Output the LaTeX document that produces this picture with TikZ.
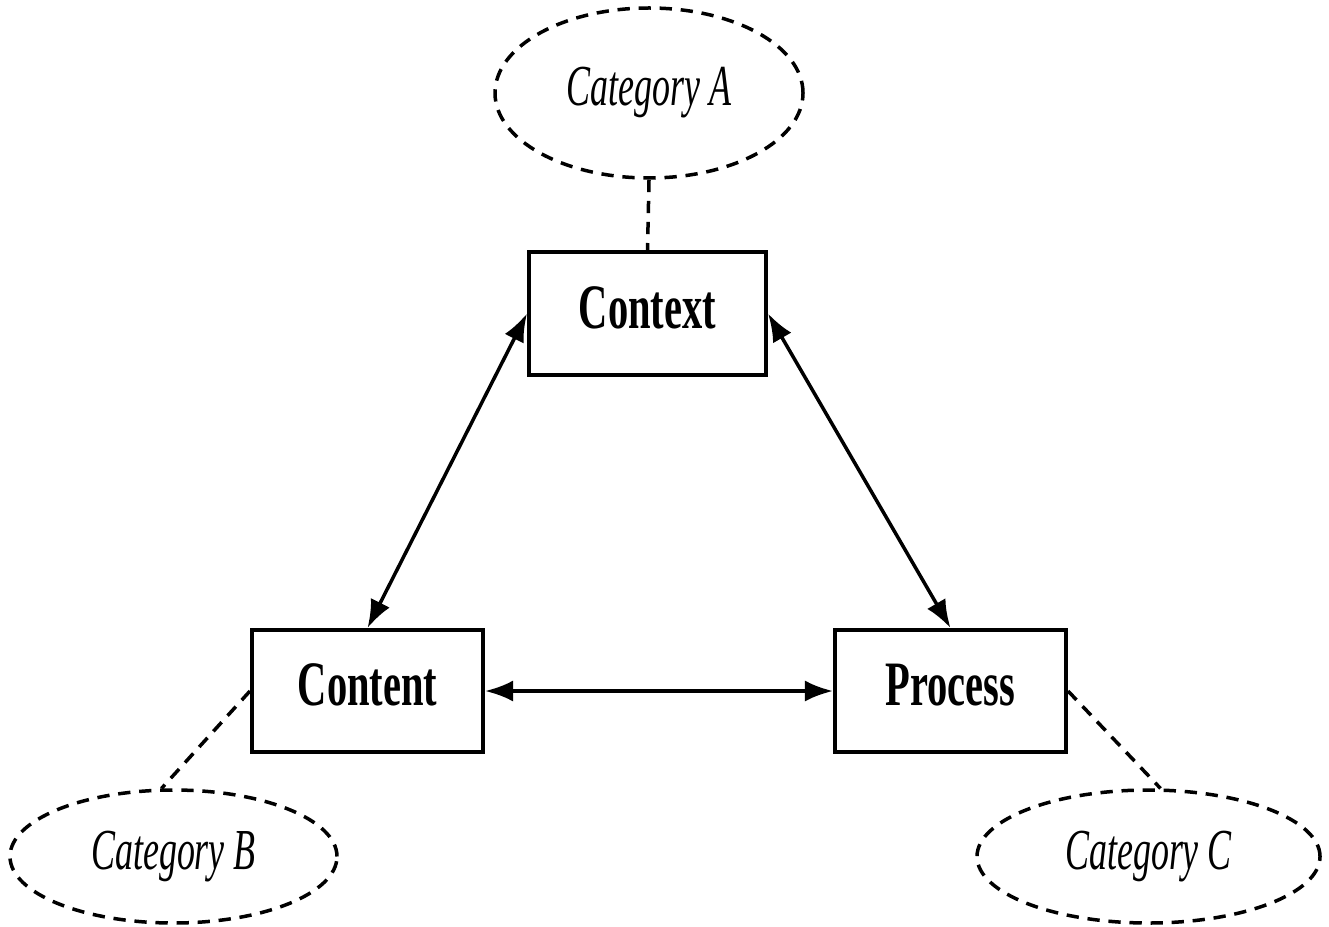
\documentclass[tikz,border=0pt]{standalone}
\usepackage{fontspec}
\usepackage{tikz}
\usetikzlibrary{shapes.geometric, arrows.meta}
\newfontfamily\boxfont[FakeStretch=0.64]{Liberation Serif}
\newfontfamily\catfont[FakeStretch=0.62]{Liberation Serif}
\tikzstyle{block} = [rectangle, draw=black, line width=0.4mm,
                     text centered, text depth=0.35em, font=\boxfont\bfseries\fontsize{18}{21}\selectfont]
\tikzstyle{category} = [ellipse, draw=black, line width=0.35mm,
                        dash pattern=on 3.5pt off 2.5pt, inner sep=0pt,
                        font=\catfont\itshape\fontsize{16.5}{19}\selectfont]
\tikzstyle{arrow} = [line width=0.35mm, {Latex[length=8pt,width=6pt]}-{Latex[length=8pt,width=6pt]}]
\tikzstyle{link} = [line width=0.35mm, dash pattern=on 3.5pt off 2.5pt]

\begin{document}
\begin{tikzpicture}
        \useasboundingbox (0,0) rectangle (13.29,9.26);

        \node (Context) [block, minimum width=2.37cm, minimum height=1.23cm, xshift=6.475cm, yshift=6.125cm] {Context};

        \node (Content) [block, minimum width=2.31cm, minimum height=1.22cm, xshift=3.675cm, yshift=2.35cm] {Content};

        \node (Process) [block, minimum width=2.31cm, minimum height=1.22cm, xshift=9.505cm, yshift=2.35cm] {Process};

        \node (CatA) [category, minimum width=3.08cm, minimum height=1.70cm, xshift=6.49cm, yshift=8.33cm] {Category A};

        \node (CatB) [category, minimum width=3.27cm, minimum height=1.33cm, xshift=1.735cm, yshift=0.695cm] {Category B};

        \node (CatC) [category, minimum width=3.43cm, minimum height=1.33cm, xshift=11.485cm, yshift=0.695cm] {Category C};

        \draw [arrow] (Context.west) -- (Content.north); %context - content
        \draw [arrow] (Context.east) -- (Process.north); %context - process
        \draw [arrow] (Content.east) -- (Process.west); %content - process

        \draw [link] (CatA.south) -- (Context.north); %category a
        \draw [link] (Content.west) -- (CatB.100); %category b
        \draw [link] (Process.east) -- (CatC.80); %category c

\end{tikzpicture}
\end{document}
